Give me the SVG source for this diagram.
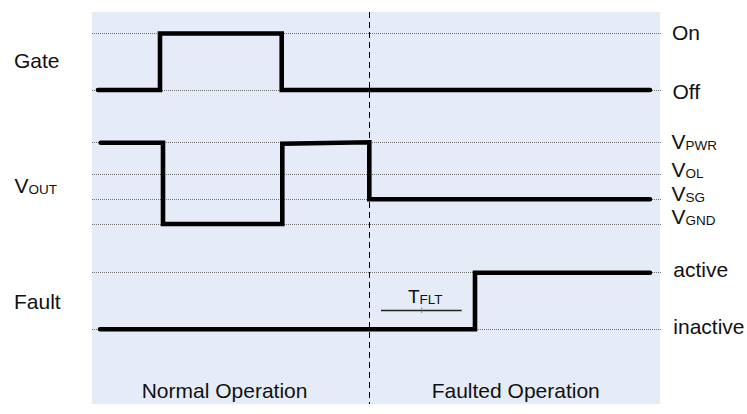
<svg xmlns="http://www.w3.org/2000/svg" width="747" height="414" viewBox="0 0 747 414">
  <style>
    .lbl { font-family: "Liberation Sans", Arial, sans-serif; font-size: 21px; fill: #111; }
    .sub { font-size: 13.5px; }
    .grid { stroke: #6e6e6e; stroke-width: 1; stroke-dasharray: 1 1; fill: none; }
    .wave { stroke: #000; stroke-width: 4.6; fill: none; stroke-linecap: round; stroke-linejoin: miter; }
  </style>
  <rect width="747" height="414" fill="#ffffff"/>
  <g id="panel">
    <rect x="92" y="12" width="568" height="392" fill="#e6ecf7"/>
  </g>
  <g id="gridlines">
    <line class="grid" x1="92" y1="33.5" x2="662" y2="33.5"/>
    <line class="grid" x1="92" y1="90.5" x2="662" y2="90.5"/>
    <line class="grid" x1="92" y1="142.5" x2="662" y2="142.5"/>
    <line class="grid" x1="92" y1="174.5" x2="662" y2="174.5"/>
    <line class="grid" x1="92" y1="199.5" x2="662" y2="199.5"/>
    <line class="grid" x1="92" y1="224.5" x2="662" y2="224.5"/>
    <line class="grid" x1="92" y1="272.5" x2="662" y2="272.5"/>
    <line class="grid" x1="92" y1="329.5" x2="662" y2="329.5"/>
  </g>
  <g id="divider">
    <line x1="369.5" y1="12" x2="369.5" y2="404" stroke="#000" stroke-width="1" stroke-dasharray="6 4"/>
  </g>
  <g id="connectors">
    <polyline id="gate-wave" class="wave" points="98,90 160,90 160,33.5 281.7,33.5 281.7,90 650,90"/>
    <polyline id="vout-wave" class="wave" points="100.7,142.7 163,142.7 163,224 282.3,224 282.3,143.8 369.3,142.3 369.3,199.3 650,199.3"/>
    <polyline id="fault-wave" class="wave" points="100,329.3 475,329.3 475,272.7 650,272.7"/>
  </g>
  <g id="tflt">
    <line x1="381" y1="310.5" x2="461.7" y2="310.5" stroke="#222" stroke-width="1.3"/>
    <line x1="421.7" y1="307.5" x2="421.7" y2="313" stroke="#666" stroke-width="0.8"/>
    <text class="lbl" x="408" y="303.3" style="font-size:19px">T<tspan class="sub" dy="1">FLT</tspan></text>
  </g>
  <g id="gate">
    <text class="lbl" x="14" y="67.7">Gate</text>
    <text class="lbl" x="672" y="40">On</text>
    <text class="lbl" x="672.5" y="99">Off</text>
  </g>
  <g id="vout">
    <text class="lbl" x="14.5" y="193.3">V<tspan class="sub" dy="1">OUT</tspan></text>
    <text class="lbl" x="671.5" y="149.3">V<tspan class="sub" dy="1">PWR</tspan></text>
    <text class="lbl" x="671.5" y="176.7">V<tspan class="sub" dy="1">OL</tspan></text>
    <text class="lbl" x="671.5" y="201">V<tspan class="sub" dy="1">SG</tspan></text>
    <text class="lbl" x="671.5" y="224.3">V<tspan class="sub" dy="1">GND</tspan></text>
  </g>
  <g id="fault">
    <text class="lbl" x="14" y="309">Fault</text>
    <text class="lbl" x="673.3" y="277.3">active</text>
    <text class="lbl" x="673.3" y="334.3">inactive</text>
  </g>
  <g id="phases">
    <text class="lbl" x="141.7" y="397.5">Normal Operation</text>
    <text class="lbl" x="431.7" y="397.5">Faulted Operation</text>
  </g>
</svg>
